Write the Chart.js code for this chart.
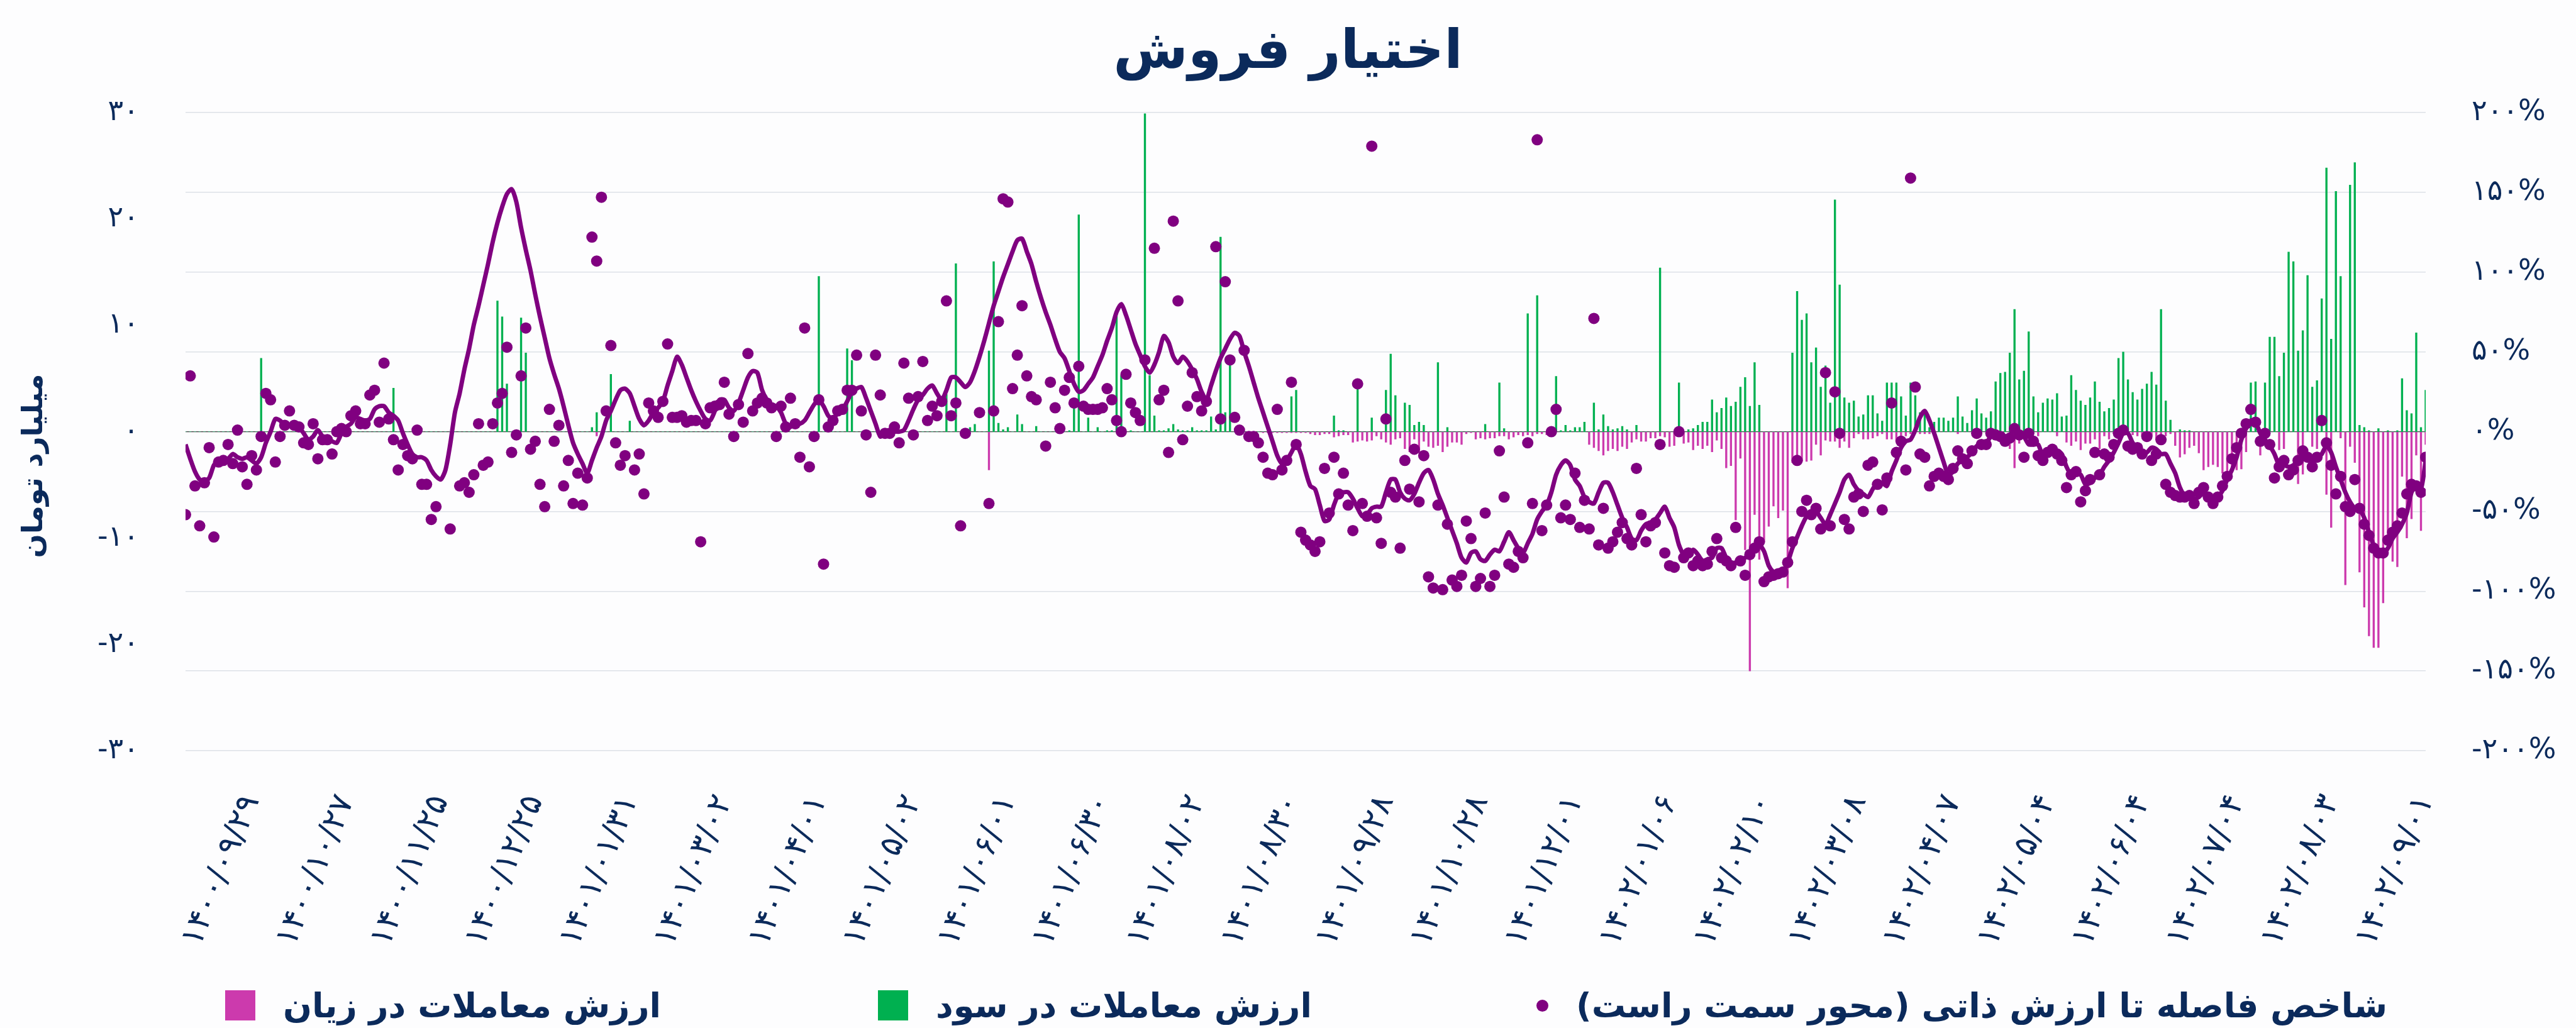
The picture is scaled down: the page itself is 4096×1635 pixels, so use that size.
<!DOCTYPE html>
<html lang="fa">
<head>
<meta charset="utf-8">
<title>اختیار فروش</title>
<script src="https://cdn.jsdelivr.net/npm/chart.js@4.4.0/dist/chart.umd.min.js"></script>
<style>
  html, body { margin: 0; padding: 0; background: #fdfdfe; }
  #wrap { position: relative; width: 4096px; height: 1635px; overflow: hidden; }
  #chart { position: absolute; left: 0; top: 0; }
  .legend-item { position: absolute; top: 1569px; height: 60px; display: flex; align-items: center;
    font: bold 54px 'DejaVu Sans', sans-serif; color: #0b2a5b; white-space: nowrap; }
  .swatch { width: 48px; height: 48px; margin-right: 44px; }
  .dot { width: 19px; height: 19px; border-radius: 50%; margin-right: 44px; }
</style>
</head>
<body>
<div id="wrap">
  <canvas id="chart" width="4096" height="1635"></canvas>
  <div class="legend-item" style="left:358px"><div class="swatch" style="background:#cc3aad"></div><span dir="rtl">ارزش معاملات در زیان</span></div>
  <div class="legend-item" style="left:1396px"><div class="swatch" style="background:#00b050"></div><span dir="rtl">ارزش معاملات در سود</span></div>
  <div class="legend-item" style="left:2443px"><div class="dot" style="background:#800080"></div><span dir="rtl">شاخص فاصله تا ارزش ذاتی (محور سمت راست)</span></div>
</div>
<script>
const navy = '#0b2a5b';
const purple = '#800080';
const green = '#00b050';
const magenta = '#cc3aad';

// x tick positions (trading-day index) and their dates
const tickIdx = [14, 34, 54, 74, 94, 114, 134, 154, 174, 194, 214, 234,
  254, 274, 294, 314, 334, 354, 374, 394, 414, 434, 454, 474];
const tickLabels = ['۱۴۰۰/۰۹/۲۹', '۱۴۰۰/۱۰/۲۷', '۱۴۰۰/۱۱/۲۵', '۱۴۰۰/۱۲/۲۵', '۱۴۰۱/۰۱/۳۱', '۱۴۰۱/۰۳/۰۲',
  '۱۴۰۱/۰۴/۰۱', '۱۴۰۱/۰۵/۰۲', '۱۴۰۱/۰۶/۰۱', '۱۴۰۱/۰۶/۳۰', '۱۴۰۱/۰۸/۰۲', '۱۴۰۱/۰۸/۳۰',
  '۱۴۰۱/۰۹/۲۸', '۱۴۰۱/۱۰/۲۸', '۱۴۰۱/۱۲/۰۱', '۱۴۰۲/۰۱/۰۶', '۱۴۰۲/۰۲/۱۰', '۱۴۰۲/۰۳/۰۸',
  '۱۴۰۲/۰۴/۰۷', '۱۴۰۲/۰۵/۰۴', '۱۴۰۲/۰۶/۰۴', '۱۴۰۲/۰۷/۰۴', '۱۴۰۲/۰۸/۰۳', '۱۴۰۲/۰۹/۰۱'];

// smoothed index line (% , right axis)
const lineVals = [
  -8,-17,-25,-30,-31,-29,-21,-18,-18,-17,
  -14,-16,-17,-16,-18,-20,-16,-7,0,8,
  7,4,4,5,3,-1,-5,-3,1,-3,
  -4,-6,-7,-1,3,5,9,8,7,8,
  14,16,16,12,10,7,-1,-8,-14,-16,
  -16,-18,-24,-28,-30,-24,-8,12,24,39,
  52,67,79,92,105,119,131,141,149,152,
  144,128,114,101,86,72,59,46,36,27,
  16,4,-7,-14,-20,-26,-18,-10,-3,7,
  13,20,26,27,24,16,8,4,7,12,
  15,19,29,38,47,42,34,26,19,13,
  8,7,13,20,20,15,13,18,26,34,
  38,37,26,20,17,16,12,5,3,5,
  5,7,12,17,20,16,10,8,12,14,
  19,25,27,28,21,13,5,-3,-1,-1,
  0,0,1,7,14,20,23,27,29,24,
  20,26,34,34,31,28,31,38,47,57,
  68,79,88,97,105,113,120,121,113,105,
  94,84,75,67,58,50,46,38,30,25,
  26,30,34,41,48,57,65,75,80,73,
  64,55,48,41,37,42,50,60,56,47,
  43,47,44,39,33,25,20,29,38,46,
  52,58,62,60,50,41,31,21,12,3,
  -6,-15,-20,-18,-13,-8,-14,-25,-34,-36,
  -46,-56,-55,-46,-39,-38,-38,-42,-48,-53,
  -52,-48,-47,-47,-38,-30,-30,-38,-42,-43,
  -39,-32,-26,-24,-30,-39,-46,-54,-62,-70,
  -79,-82,-76,-75,-80,-81,-77,-74,-75,-69,
  -63,-68,-73,-76,-70,-64,-55,-50,-46,-38,
  -27,-21,-18,-21,-30,-34,-41,-44,-45,-38,
  -32,-32,-38,-46,-54,-60,-67,-68,-62,-58,
  -57,-55,-51,-47,-54,-60,-71,-77,-78,-74,
  -77,-81,-80,-79,-73,-73,-79,-82,-82,-80,
  -79,-77,-75,-71,-75,-84,-88,-89,-88,-82,
  -73,-66,-59,-53,-50,-50,-54,-58,-52,-45,
  -38,-30,-27,-33,-37,-39,-41,-36,-32,-32,
  -34,-25,-18,-10,-6,-5,1,9,13,7,
  -1,-10,-19,-27,-25,-20,-18,-16,-13,-9,
  -8,-7,-3,-2,-2,-3,-2,1,0,-3,
  -8,-8,-8,-15,-14,-13,-12,-14,-22,-27,
  -26,-27,-33,-32,-29,-27,-22,-18,-13,-7,
  -1,-1,-7,-11,-13,-13,-10,-11,-14,-14,
  -20,-26,-35,-40,-41,-42,-41,-38,-41,-43,
  -41,-37,-30,-24,-16,-5,2,7,6,-1,
  -5,-9,-14,-21,-21,-22,-21,-18,-14,-14,
  -18,-17,-14,-9,-13,-22,-30,-38,-44,-48,
  -49,-54,-63,-71,-75,-76,-73,-67,-63,-58,
  -51,-38,-34,-36,-18
];

// daily index points (% , right axis)
const dotVals = [
  -52,35,-34,-59,-32,-10,-66,-19,-18,-8,
  -20,1,-22,-33,-15,-24,-3,24,20,-19,
  -3,4,13,4,3,-7,-8,5,-17,-5,
  -5,-14,0,2,0,10,13,5,5,23,
  26,6,43,8,-5,-24,-8,-15,-17,1,
  -33,-33,-55,-47,null,null,-61,null,-34,-32,
  -38,-27,5,-21,-19,5,18,24,53,-13,
  -2,35,65,-11,-6,-33,-47,14,-6,4,
  -34,-18,-45,-26,-46,-29,122,107,147,13,
  54,-7,-21,-15,null,-24,-14,-39,18,13,
  9,19,55,9,9,10,6,7,7,-69,
  5,15,16,17,31,11,-3,17,6,49,
  13,18,21,18,15,-3,16,3,21,5,
  -16,65,-22,-3,20,-83,3,7,13,14,
  26,26,48,13,-2,-38,48,23,-1,-1,
  3,-7,43,21,-2,22,44,7,16,10,
  19,82,10,18,-59,-1,null,null,12,null,
  -45,13,69,146,144,27,48,79,35,22,
  20,null,-9,31,15,2,26,34,18,41,
  16,14,14,14,15,27,20,7,0,36,
  18,12,7,45,null,115,20,26,-13,132,
  82,-5,16,37,22,13,19,null,116,8,
  94,45,9,1,51,-3,-3,-7,-16,-26,
  -27,14,-24,-18,31,-8,-63,-68,-71,-75,
  -69,-23,-51,-16,-39,-26,-46,-62,30,-45,
  -53,179,-54,-70,8,-38,-41,-73,-18,-36,
  -11,-44,-15,-91,-98,-46,-99,-58,-93,-97,
  -90,-56,-67,-97,-92,-51,-97,-90,-12,-41,
  -83,-85,-75,-79,-7,-45,183,-62,-46,0,
  14,-54,-46,-55,-26,-60,-43,-61,71,-71,
  -48,-73,-69,-63,-57,-67,-71,-23,-52,-69,
  -59,-57,-8,-76,-84,-85,0,-79,-76,-84,
  -81,-84,-83,-75,-67,-79,-81,-84,-60,-81,
  -90,-77,-73,-69,-94,-91,-90,-89,-88,-82,
  -69,-18,-50,-43,-52,-48,-61,37,-59,25,
  -1,-55,-61,-41,-39,-50,-21,-19,-33,-49,
  -29,18,-13,-6,-24,159,28,-14,-16,-34,
  -28,-26,-28,-30,-23,-12,-17,-20,-12,-1,
  -8,-8,-1,-2,-3,-6,-4,2,-2,-16,
  -1,-6,-15,-18,-13,-11,-14,-18,-35,-27,
  -25,-44,-37,-30,-13,-27,-14,-16,-8,-1,
  1,-9,-11,-10,-14,-3,-18,-14,-5,-33,
  -38,-40,-41,-41,-40,-45,-38,-35,-41,-45,
  -41,-34,-28,-17,-10,-1,5,14,6,-6,
  -1,-8,-29,-22,-18,-27,-24,-18,-12,-16,
  -22,-16,7,-7,-21,-39,-28,-47,-50,-30,
  -48,-58,-65,-73,-76,-76,-68,-63,-59,-51,
  -39,-33,-34,-38,-16
];

// value of trades in profit (billion toman, left axis)
const profitVals = [
  0,0,0,0,0,0,0,0,0,0,
  0,0,0,0,0,0,6.9,0,0,0,
  0,0,0,0,0,0,0,0,0,0,
  0,0,0,0,0,0,0,0,0,0,
  0,0,0,0,4.1,0,0,0,0,0,
  0,0,0,0,0,0,0,0,0,0,
  0,0,0,0,0,0,12.3,10.8,4.5,0,
  0,10.7,7.4,0,0,0,0,0,0,0,
  0,0,0,0,0,0,0.4,1.8,0,0,
  5.4,0,0,0,1.0,0,0,0,0,0,
  0,0,0,0,0,0,0,0,0,0,
  0,0,0,0,0,0,0,0,0,0,
  0,0,0,0,0,0,0,0,0,0,
  0,0,0,0,14.6,0,0,0,0,0,
  7.8,6.7,0,0,0,0,0,0,0,0,
  0,0,0,0,0,0,0,0,0,0,
  0,3.5,0,15.8,0,0,0.4,0.7,0,0,
  7.6,16.0,0.8,0.2,0.4,0,1.6,0.7,0,0,
  0.5,0,0,0,0,0,0,0.1,2.2,20.4,
  0,1.3,0,0.4,0,0.1,0.1,11.2,5.3,0,
  0.1,0,0,29.9,5.3,1.5,0.1,0.1,0.3,0.7,
  0.2,0.1,0.1,0.4,0.1,0.1,0.1,1.4,0.2,18.3,
  1.8,6.4,0,0,0,0,0,0,0,0,
  0,0,0,0,3.3,3.9,0,0,0,0,
  0,0,0,1.5,0.1,0.1,0,0,4.0,0,
  0,1.3,0,0,3.9,7.3,3.4,0,2.7,2.5,
  0.6,0.9,0.6,0,0,6.5,0,0.4,0,0,
  0,0,0,0,0,0.7,0,0,4.6,0.3,
  0,0,0,0,11.1,0,12.8,0,0,0,
  5.2,0.1,0.6,0.1,0.4,0.4,0.9,0,2.7,0.2,
  1.6,0.5,0.2,0.3,0.5,0.2,0,0.6,0,0,
  0,0,15.4,0,0,0,4.6,0,0.2,0.3,
  0.6,0.9,0.9,3.0,1.8,2.2,3.2,2.4,2.8,4.2,
  5.1,2.4,6.5,2.5,0,0,0,0,0,0,
  7.4,13.2,10.5,11.1,6.5,7.9,4.2,6.2,2.7,21.8,
  13.8,3.2,2.7,2.9,1.4,1.6,3.4,3.4,1.7,1.0,
  4.6,4.6,4.6,3.3,1.5,4.6,3.4,1.8,1.8,0.4,
  0.9,1.3,1.3,1.0,1.3,3.3,1.4,0.8,2.0,3.1,
  1.7,1.3,1.9,4.7,5.5,5.6,7.4,11.5,4.9,5.7,
  9.4,3.3,1.8,2.7,3.1,3.0,3.6,1.4,1.5,5.3,
  3.9,2.9,2.5,3.2,4.7,2.8,1.9,2.2,3.0,6.9,
  7.5,4.9,3.7,3.0,4.0,4.5,5.6,4.4,11.5,2.9,
  1.1,0,0.2,0.1,0.1,0,0,0,0,0,
  0,0,0,0,0,0,0,4.6,4.7,0,
  4.6,8.9,8.9,5.2,7.4,16.9,16.0,7.6,9.5,14.7,
  4.2,4.8,12.5,24.8,8.7,22.6,14.6,0,23.2,25.3,
  0.6,0.4,0.1,0,0.3,0,0.1,0,0.1,5.0,
  2.0,1.7,9.3,0.4,3.9
];

// value of trades in loss (billion toman, left axis)
const lossVals = [
  0,0,0,0,0,0,0,0,0,0,
  0,0,0,0,0,0,0,0,0,0,
  0,0,0,0,0,0,0,0,0,0,
  0,0,0,0,0,0,0,0,0,0,
  0,0,0,0,0,0,0,0,0,0,
  0,0,0,0,0,0,0,0,0,0,
  0,0,0,0,0,0,0,0,0,0,
  0,0,0,0,0,0,0,0,0,0,
  0,0,0,0,0,0,0,-0.4,0,0,
  0,0,0,0,0,0,0,0,0,0,
  0,0,0,0,0,0,0,0,0,0,
  0,0,0,0,0,0,0,0,0,0,
  0,0,0,0,0,0,0,0,0,0,
  0,0,0,0,0,0,0,0,0,0,
  0,0,0,0,0,0,0,0,0,0,
  0,0,0,0,0,0,0,0,0,0,
  0,0,0,0,0,0,0,0,0,0,
  -3.6,0,0,0,0,0,0,0,0,0,
  0,0,0,0,0,0,0,0,0,0,
  0,0,0,0,0,0,0,0,0,0,
  0,0,0,0,0,0,0,0,0,0,
  0,0,0,0,0,0,0,0,0,0,
  0,0,0,0,0,0,0,0,-0.1,-0.1,
  -0.1,-0.1,-0.1,-0.1,-0.1,-0.1,-0.1,-0.1,-0.2,-0.3,
  -0.3,-0.2,-0.2,-0.5,-0.4,-0.3,-0.3,-1.0,-0.9,-0.8,
  -0.9,-0.8,-0.4,-0.7,-1.0,-1.2,-0.7,-0.6,-1.6,-1.9,
  -0.7,-2.0,-0.9,-1.4,-1.5,-1.3,-1.9,-1.4,-1.0,-1.0,
  -1.2,-0.2,-0.1,-0.7,-0.6,-0.7,-0.6,-0.6,-0.4,-0.4,
  -0.7,-0.5,-0.3,-0.4,-0.3,-0.4,-0.2,-0.2,-0.3,0,
  0,0,0,0,0,0,0,-1.2,-1.5,-1.8,
  -2.2,-1.8,-1.6,-1.8,-1.4,-1.6,-1.0,-0.7,-0.9,-0.9,
  -0.6,-0.6,-0.4,-0.5,-1.4,-1.3,-0.4,-1.1,-1.0,-1.7,
  -1.3,-1.6,-1.3,-1.9,-0.8,-1.6,-3.4,-3.2,-8.3,-2.5,
  -11.1,-22.5,-7.8,-12.0,-10.4,-8.9,-7.0,-8.1,-7.4,-14.7,
  -2.9,-2.8,-2.8,-2.8,-2.7,-1.2,-2.2,-0.8,-0.9,-0.9,
  -1.5,-0.9,-1.5,-0.6,-0.2,-0.7,-0.7,-0.6,-0.4,-0.2,
  -0.7,-0.7,-0.9,-0.4,-0.4,-0.2,-0.2,-0.2,-0.2,-0.2,
  -0.2,0,0,0,0,-0.2,0,0,0,0,
  0,0,0,0,0,0,-1.6,-3.4,-1.1,-0.4,
  -0.4,-0.2,-0.4,0,0,0,-0.4,0,-1.0,-1.3,
  -0.9,-1.7,-1.1,-1.1,-0.7,-1.6,-0.4,-0.7,-0.2,-0.2,
  -0.2,-0.2,-0.3,-0.4,-0.4,-0.4,-0.4,-0.8,-0.4,-0.4,
  -0.2,-1.3,-2.4,-2.1,-1.5,-1.3,-2.0,-3.6,-3.3,-3.1,
  -3.3,-3.9,-4.0,-3.7,-3.6,-3.5,-1.9,0,0,-2.2,
  0,0,0,-1.7,-1.6,0,0,-4.9,-4.0,0,
  -1.4,-1.6,0,-5.9,-9.0,0,-0.6,-14.4,-1.4,-2.9,
  -13.2,-16.5,-19.2,-20.3,-20.3,-16.1,-11.2,-12.2,-12.7,-4.2,
  -10.0,-8.2,-2.2,-9.3,-1.2
];

const faDigits = '۰۱۲۳۴۵۶۷۸۹';
function fa(n) {
  return String(n).replace(/\d/g, d => faDigits[d]);
}
const toPoints = arr => arr.map((v, i) => ({ x: i, y: v }));

Chart.defaults.font.family = "'DejaVu Sans', sans-serif";
Chart.defaults.color = navy;

// left axis title drawn at its reference position
const axisTitle = {
  id: 'axisTitle',
  afterDraw(chart) {
    const c = chart.ctx;
    c.save();
    c.translate(55, 741);
    c.rotate(-Math.PI / 2);
    c.font = "bold 45px 'DejaVu Sans', sans-serif";
    c.fillStyle = navy;
    c.textAlign = 'center';
    c.textBaseline = 'middle';
    c.fillText('میلیارد تومان', 0, 0);
    c.restore();
  }
};

new Chart(document.getElementById('chart'), {
  type: 'bar',
  data: {
    datasets: [
      {
        type: 'scatter',
        label: 'شاخص فاصله تا ارزش ذاتی (محور سمت راست)',
        data: toPoints(dotVals),
        yAxisID: 'y1',
        pointRadius: 9,
        pointBackgroundColor: purple,
        pointBorderWidth: 0,
        showLine: false,
        order: 0
      },
      {
        type: 'line',
        label: 'شاخص',
        data: toPoints(lineVals),
        yAxisID: 'y1',
        borderColor: purple,
        borderWidth: 7,
        pointRadius: 0,
        tension: 0.25,
        order: 1
      },
      {
        label: 'ارزش معاملات در سود',
        data: toPoints(profitVals),
        yAxisID: 'y',
        backgroundColor: green,
        barThickness: 2.7,
        grouped: false,
        order: 2
      },
      {
        label: 'ارزش معاملات در زیان',
        data: toPoints(lossVals),
        yAxisID: 'y',
        backgroundColor: magenta,
        barThickness: 2.7,
        grouped: false,
        order: 3
      }
    ]
  },
  options: {
    responsive: false,
    animation: false,
    layout: { padding: 0 },
    plugins: {
      legend: { display: false },
      tooltip: { enabled: false },
      title: {
        display: true,
        text: 'اختیار فروش',
        color: navy,
        font: { size: 86, weight: 'bold' },
        padding: { top: 34, bottom: 42 }
      }
    },
    scales: {
      x: {
        type: 'linear',
        min: 0,
        max: 474,
        offset: false,
        grid: { display: false, drawTicks: false },
        border: { display: false },
        afterBuildTicks: s => { s.ticks = tickIdx.map(v => ({ value: v })); },
        afterFit: s => { s.height = 441; },
        ticks: {
          autoSkip: false,
          minRotation: 68,
          maxRotation: 68,
          padding: 62,
          color: navy,
          font: { size: 51 },
          callback: (v, i) => tickLabels[i]
        }
      },
      y: {
        position: 'left',
        min: -30,
        max: 30,
        grid: { display: false, drawTicks: false },
        border: { display: false },
        afterFit: s => { s.width = 295; },
        ticks: { stepSize: 10, padding: 74, color: navy, font: { size: 46 }, callback: v => fa(v) }
      },
      y1: {
        position: 'right',
        min: -200,
        max: 200,
        grid: {
          drawTicks: false,
          color: c => c.tick.value === 0 ? '#3d3d3d' : '#dde1e7',
          lineWidth: c => c.tick.value === 0 ? 1.2 : 1.6
        },
        border: { display: false },
        afterFit: s => { s.width = 239; },
        ticks: { stepSize: 50, padding: 73, color: navy, font: { size: 46 }, callback: v => fa(v) + '%' }
      }
    }
  },
  plugins: [axisTitle]
});
</script>
</body>
</html>
